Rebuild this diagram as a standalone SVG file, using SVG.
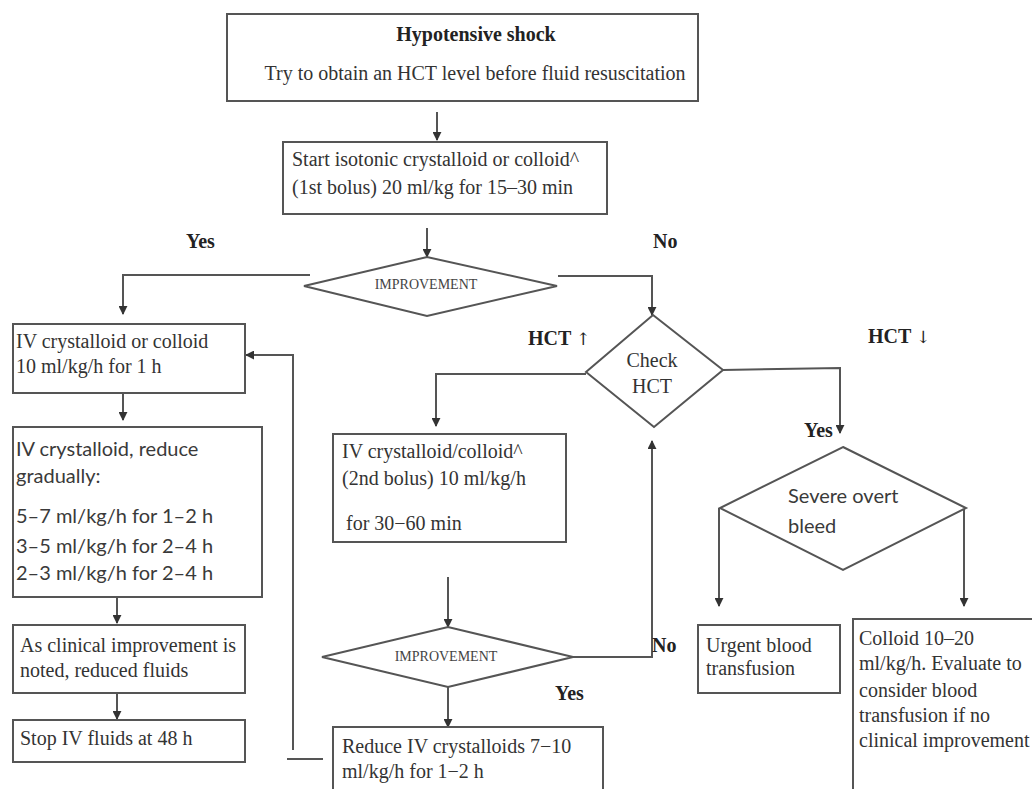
<svg xmlns="http://www.w3.org/2000/svg" width="1032" height="789" viewBox="0 0 1032 789">
<defs>
<marker id="ah" viewBox="0 0 10 10" refX="9" refY="5" markerWidth="4.5" markerHeight="4.5" orient="auto" markerUnits="strokeWidth">
<path d="M0,0 L10,5 L0,10 z" fill="#333"/>
</marker>
</defs>
<style>
.box{fill:#fff;stroke:#555;stroke-width:2}
.dia{fill:#fff;stroke:#555;stroke-width:2}
.ln{fill:none;stroke:#555;stroke-width:2}
.ar{fill:none;stroke:#555;stroke-width:2;marker-end:url(#ah)}
.t{font-family:"Liberation Serif","Times New Roman",serif;font-size:20px;fill:#333}
.s{font-family:"Lato","Open Sans",sans-serif;font-size:20px;fill:#3a3a3a}
.b{font-family:"Liberation Serif","Times New Roman",serif;font-size:20px;font-weight:bold;fill:#222}
.ga{font-family:"DejaVu Serif",serif;font-weight:normal;font-size:17px;fill:#222}
.sm{font-family:"Liberation Serif","Times New Roman",serif;font-size:14px;fill:#444}
</style>
<rect width="1032" height="789" fill="#fff"/>
<g id="connectors">
<path class="ar" d="M437,112 L437,140"/>
<path class="ar" d="M427,228 L427,257"/>
<path class="ar" d="M310,275 L123,275 L123,314"/>
<path class="ar" d="M558,276 L652,276 L652,315"/>
<path class="ar" d="M123,393 L123,420"/>
<path class="ar" d="M117,597 L117,623"/>
<path class="ar" d="M117,693 L117,719"/>
<path class="ar" d="M586,374 L436,374 L436,426"/>
<path class="ar" d="M448,577 L448,627"/>
<path class="ar" d="M573,657 L652,657 L652,441"/>
<path class="ar" d="M448,687 L448,727"/>
<path class="ar" d="M293,750 L293,355 L246,355"/>
<path class="ln" d="M287,759 L323,759"/>
<path class="ar" d="M723,370 L840,368 L840,433"/>
<path class="ar" d="M719,508 L719,606"/>
<path class="ar" d="M964,508 L964,606"/>
</g>
<g id="n-top">
<rect class="box" x="227" y="14" width="471" height="87"/>
<text class="b" x="476" y="41" text-anchor="middle">Hypotensive shock</text>
<text class="t" x="475" y="80" text-anchor="middle" font-size="21">Try to obtain an HCT level before fluid resuscitation</text>
</g>
<g id="n-start">
<rect class="box" x="283" y="142" width="324" height="72"/>
<text class="t" x="292" y="166">Start isotonic crystalloid or colloid^</text>
<text class="t" x="292" y="194">(1st bolus) 20 ml/kg for 15–30 min</text>
</g>
<g id="labels">
<text class="b" x="186" y="248">Yes</text>
<text class="b" x="653" y="248">No</text>
<text class="b" x="528" y="345">HCT <tspan class="ga">↑</tspan></text>
<text class="b" x="868" y="343">HCT <tspan class="ga">↓</tspan></text>
<text class="b" x="804" y="437">Yes</text>
<text class="b" x="652" y="652">No</text>
<text class="b" x="555" y="700">Yes</text>
</g>
<g id="n-improve1">
<polygon class="dia" points="304,286 427,257 557,286 427,316"/>
<text class="sm" x="426" y="289" text-anchor="middle">IMPROVEMENT</text>
</g>
<g id="n-check">
<polygon class="dia" points="653,315 723,370 654,427 586,372"/>
<text class="t" x="652" y="367" text-anchor="middle" fill="#444">Check</text>
<text class="t" x="652" y="393" text-anchor="middle" fill="#444">HCT</text>
</g>
<g id="n-l1">
<rect class="box" x="13" y="324" width="232" height="69"/>
<text class="t" x="16" y="348">IV crystalloid or colloid</text>
<text class="t" x="16" y="373">10 ml/kg/h for 1 h</text>
</g>
<g id="n-l2">
<rect class="box" x="13" y="427" width="249" height="170"/>
<text class="s" x="16" y="456">IV crystalloid, reduce</text>
<text class="s" x="16" y="483">gradually:</text>
<text class="s" x="16" y="523">5–7 ml/kg/h for 1–2 h</text>
<text class="s" x="16" y="553">3–5 ml/kg/h for 2–4 h</text>
<text class="s" x="16" y="580">2–3 ml/kg/h for 2–4 h</text>
</g>
<g id="n-l3">
<rect class="box" x="13" y="625" width="232" height="68"/>
<text class="t" x="20" y="652">As clinical improvement is</text>
<text class="t" x="20" y="677">noted, reduced fluids</text>
</g>
<g id="n-l4">
<rect class="box" x="13" y="720" width="232" height="42"/>
<text class="t" x="20" y="745">Stop IV fluids at 48 h</text>
</g>
<g id="n-bolus2">
<rect class="box" x="333" y="434" width="233" height="108"/>
<text class="t" x="342" y="458">IV crystalloid/colloid^</text>
<text class="t" x="342" y="485">(2nd bolus) 10 ml/kg/h</text>
<text class="t" x="346" y="530">for 30−60 min</text>
</g>
<g id="n-improve2">
<polygon class="dia" points="322,657 448,627 573,657 448,687"/>
<text class="sm" x="446" y="661" text-anchor="middle">IMPROVEMENT</text>
</g>
<g id="n-reduce">
<rect class="box" x="333" y="727" width="270" height="70"/>
<text class="t" x="342" y="753">Reduce IV crystalloids 7−10</text>
<text class="t" x="342" y="778">ml/kg/h for 1−2 h</text>
</g>
<g id="n-bleed">
<polygon class="dia" points="843,447 966,508 843,570 720,508"/>
<text class="s" x="788" y="503">Severe overt</text>
<text class="s" x="788" y="533">bleed</text>
</g>
<g id="n-urgent">
<rect class="box" x="698" y="625" width="142" height="68"/>
<text class="t" x="706" y="652">Urgent blood</text>
<text class="t" x="706" y="675">transfusion</text>
</g>
<g id="n-colloid">
<rect class="box" x="853" y="619" width="190" height="180"/>
<text class="t" x="859" y="645">Colloid 10–20</text>
<text class="t" x="859" y="670">ml/kg/h. Evaluate to</text>
<text class="t" x="859" y="697">consider blood</text>
<text class="t" x="859" y="722">transfusion if no</text>
<text class="t" x="859" y="747">clinical improvement</text>
</g>
</svg>
